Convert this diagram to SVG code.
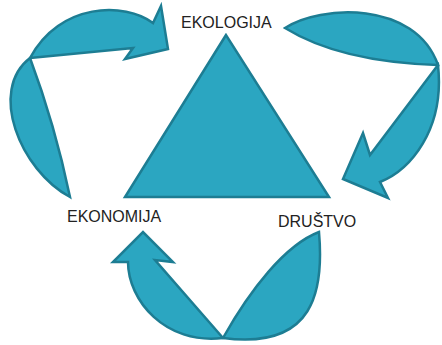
<svg xmlns="http://www.w3.org/2000/svg" width="442" height="345" viewBox="0 0 442 345">
<style>
.shape{fill:#2ba6c1;stroke:#1d7d93;stroke-width:2.5;stroke-linejoin:miter}
.lbl{font-family:"Liberation Sans",Arial,sans-serif;font-size:16px;fill:#222}
</style>
<rect width="442" height="345" fill="#fff"/>
<g id="triangle">
<polygon class="shape" points="226,35 125,197 329,197"/>
</g>
<g id="connectors">
<g id="arrow-ekonomija-ekologija">
<path class="shape" d="M30,58 Q55,125 70,197 C20,170 -12,90 30,58 Z"/>
<path class="shape" d="M30,58 L133,48 L125,59 L168,49 L161,6 L153,23 C125,2 60,2 30,58 Z"/>
</g>
<g id="arrow-ekologija-drustvo">
<path class="shape" d="M285,28 C320,5 415,0 438,65 Q340,62 285,28 Z"/>
<path class="shape" d="M438,65 L370,155 L363,133 L343,179 L388,198 L380,182 C410,170 445,130 438,65 Z"/>
</g>
<g id="arrow-drustvo-ekonomija">
<path class="shape" d="M223,338 C250,290 285,245 319,232 C324,290 315,350 223,338 Z"/>
<path class="shape" d="M223,338 L155,260 L173,262 L143,232 L113,262 L128,262 C128,300 165,345 223,338 Z"/>
</g>
</g>
<g id="node-ekologija"><text class="lbl" x="181" y="28">EKOLOGIJA</text></g>
<g id="node-ekonomija"><text class="lbl" x="67" y="222">EKONOMIJA</text></g>
<g id="node-drustvo"><text class="lbl" x="278" y="227">DRUŠTVO</text></g>
</svg>
